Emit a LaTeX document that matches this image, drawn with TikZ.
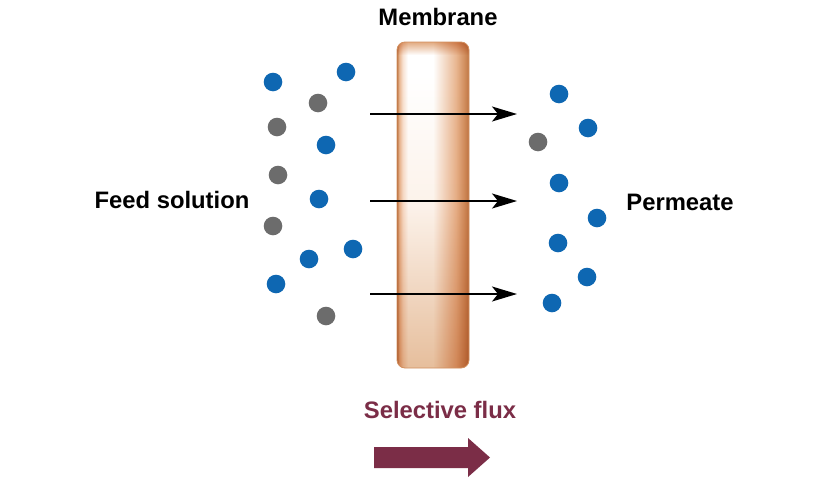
\documentclass[tikz,border=0pt]{standalone}
\usepackage{fontspec}
\setmainfont{Liberation Sans}
\usetikzlibrary{arrows.meta}

\definecolor{dotblue}{RGB}{14,103,178}
\definecolor{dotgray}{RGB}{108,108,108}
\definecolor{fluxred}{RGB}{123,45,71}
\definecolor{memedge}{RGB}{190,118,68}
\definecolor{memdark}{RGB}{210,144,96}
\definecolor{memtan}{RGB}{232,182,144}
\definecolor{memlight}{RGB}{248,226,210}
\definecolor{membot}{RGB}{230,190,156}
\definecolor{memtop}{RGB}{226,170,128}
\definecolor{memmid}{RGB}{252,242,234}

\pgfdeclarehorizontalshading{membraneh}{100bp}{color(0bp)=(memedge); color(25bp)=(memedge);
  color(26.5bp)=(memtan); color(29bp)=(memlight); color(32.5bp)=(white); color(50bp)=(white);
  color(66bp)=(memtan); color(71.5bp)=(memdark); color(75bp)=(memedge); color(100bp)=(memedge)}
\pgfdeclareverticalshading{membranev}{100bp}{color(0bp)=(membot); color(25bp)=(membot);
  color(50bp)=(memmid); color(70bp)=(white); color(73bp)=(white); color(75bp)=(memtop);
  color(100bp)=(memtop)}

\tikzset{
  label/.style={font=\fontsize{23.8}{28}\selectfont\bfseries, inner sep=0pt},
  flow/.style={-{Stealth[length=25pt,width=15pt,inset=6pt]}, line width=1.6pt},
}

\begin{document}
\begin{tikzpicture}[x=1pt,y=-1pt]
\useasboundingbox (0,0) rectangle (830,485);
\fill[white] (0,0) rectangle (830,485);

% membrane
\begin{scope}
\clip[rounded corners=8] (397,42) rectangle (469,368);
\shade[shading=membraneh] (397,42) rectangle (469,368);
\shade[shading=membranev, blend mode=multiply] (397,42) rectangle (469,368);
\end{scope}
\draw[memdark, line width=0.8pt, rounded corners=8] (397,42) rectangle (469,368);

% labels
\node[label] (membrane) at (438,17) {Membrane};
\node[label] (feed) at (172,200) {Feed solution};
\node[label] (permeate) at (680,202) {Permeate};
\node[label, text=fluxred] (flux) at (440,409.5) {Selective flux};

% flux arrows
\coordinate (a1s) at (370,114);
\coordinate (a1e) at (517,114);
\coordinate (a2s) at (370,201);
\coordinate (a2e) at (517,201);
\coordinate (a3s) at (370,294);
\coordinate (a3e) at (517,294);
\draw[flow] (a1s) -- (a1e);
\draw[flow] (a2s) -- (a2e);
\draw[flow] (a3s) -- (a3e);

% feed side
\foreach \x/\y in {273/82, 346/72, 326/145, 319/199, 353/249, 309/259, 276/284}
  \fill[dotblue] (\x,\y) circle (9.3);
\foreach \x/\y in {318/103, 277/127, 278/175, 273/226, 326/316}
  \fill[dotgray] (\x,\y) circle (9.3);

% permeate side
\foreach \x/\y in {559/94, 588/128, 559/183, 597/218, 558/243, 587/277, 552/303}
  \fill[dotblue] (\x,\y) circle (9.3);
\fill[dotgray] (538,142) circle (9.3);

% big arrow
\fill[fluxred] (374,447) -- (468,447) -- (468,438) -- (490,457.5) -- (468,477)
  -- (468,468) -- (374,468) -- cycle;
\end{tikzpicture}
\end{document}
